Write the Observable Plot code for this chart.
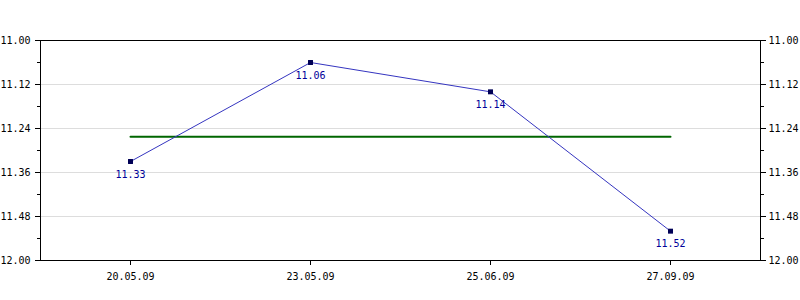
<!DOCTYPE html>
<html><head><meta charset="utf-8">
<script src="https://cdn.jsdelivr.net/npm/d3@7"></script>
<script src="https://cdn.jsdelivr.net/npm/@observablehq/plot@0.6"></script>
<style>body{margin:0;background:#fff}</style>
</head><body><div id="chart"></div>
<script>
const dates = ["20.05.09", "23.05.09", "25.06.09", "27.09.09"];
const values = [11.33, 11.06, 11.14, 11.52];
const yTicks = [11.00, 11.12, 11.24, 11.36, 11.48, 11.60];
const yTickLabels = ["11.00", "11.12", "11.24", "11.36", "11.48", "12.00"];
const yMinorTicks = [11.06, 11.18, 11.30, 11.42, 11.54];
const gridTicks = [11.12, 11.24, 11.36, 11.48];

const data = dates.map((d, i) => ({date: d, value: values[i]}));
const avg = d3.mean(values);
const avgLine = [{date: dates[0], value: avg}, {date: dates[dates.length - 1], value: avg}];
const fmt = v => { const i = yTicks.findIndex(t => Math.abs(t - v) < 1e-9); return i >= 0 ? yTickLabels[i] : ""; };

const chart = Plot.plot({
  width: 800, height: 300,
  marginLeft: 40, marginRight: 40, marginTop: 40, marginBottom: 40,
  style: {fontFamily: "'DejaVu Sans Mono', monospace", fontSize: "10px", color: "#000", background: "#fff"},
  x: {type: "point", domain: dates, padding: 0.5, label: null},
  y: {domain: [11, 11.6], reverse: true, label: null},
  marks: [
    Plot.gridY(gridTicks, {stroke: "#dddddd", strokeOpacity: 1}),
    Plot.frame({stroke: "#000"}),
    Plot.axisY(yTicks, {anchor: "left", tickSize: 5, tickPadding: 5, tickFormat: fmt, label: null}),
    Plot.axisY(yMinorTicks, {anchor: "left", tickSize: 3, tickFormat: () => "", label: null}),
    Plot.axisY(yTicks, {anchor: "right", tickSize: 5, tickPadding: 3, tickFormat: fmt, label: null}),
    Plot.axisY(yMinorTicks, {anchor: "right", tickSize: 3, tickFormat: () => "", label: null}),
    Plot.axisX({anchor: "bottom", tickSize: 5, tickPadding: 7, label: null}),
    Plot.line(avgLine, {x: "date", y: "value", stroke: "#006600", strokeWidth: 2}),
    Plot.line(data, {x: "date", y: "value", stroke: "#3535c0", strokeWidth: 1}),
    Plot.dot(data, {x: "date", y: "value", symbol: "square", r: 2.8, fill: "#000055", stroke: "none"}),
    Plot.text(data, {x: "date", y: "value", text: d => d.value.toFixed(2), dy: 13, fill: "#000099"})
  ]
});
document.getElementById("chart").appendChild(chart);
</script>
</body></html>
